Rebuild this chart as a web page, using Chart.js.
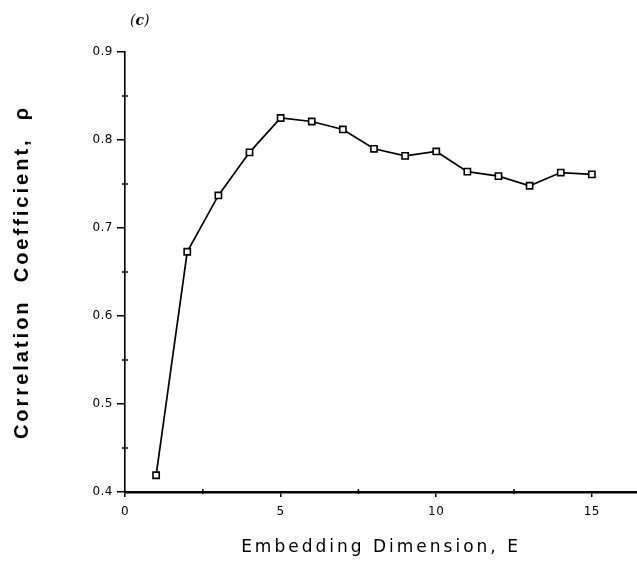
<!DOCTYPE html>
<html>
<head>
<meta charset="utf-8">
<script src="https://cdn.jsdelivr.net/npm/chart.js@4.4.1/dist/chart.umd.min.js"></script>
<style>
  html, body { margin: 0; padding: 0; background: #fff; }
  #wrap { position: relative; width: 637px; height: 585px; }
  #panel { position: absolute; left: 130px; top: 12px; font: italic 14px "DejaVu Serif", serif; color: #000; }
</style>
</head>
<body>
<div id="wrap">
  <canvas id="myChart" width="637" height="585"></canvas>
  <div id="panel">(<b>c</b>)</div>
</div>
<script>
// embedding dimension E and correlation coefficient rho
const dims = [1, 2, 3, 4, 5, 6, 7, 8, 9, 10, 11, 12, 13, 14, 15];
const rho = [0.419, 0.673, 0.737, 0.786, 0.825, 0.821, 0.812, 0.790, 0.782, 0.787, 0.764, 0.759, 0.748, 0.763, 0.761];

const xMajor = [0, 5, 10, 15];
const xMinor = [2.5, 7.5, 12.5];
const yMinor = [0.45, 0.55, 0.65, 0.75, 0.85];

const tickFont = { family: 'DejaVu Sans', size: 12 };

// wide spacing for the axis titles (drawn with the grid layer),
// tighter for tick labels (drawn after the datasets, ticks.z = 1)
const spacing = {
  id: 'spacing',
  beforeDraw(chart) {
    chart.ctx.letterSpacing = '3px';
  },
  beforeDatasetsDraw(chart) {
    chart.ctx.letterSpacing = '0.5px';
  },
};

// small minor ticks crossing the axes
const minorTicks = {
  id: 'minorTicks',
  afterDraw(chart) {
    const { ctx, scales: { x, y } } = chart;
    ctx.save();
    ctx.strokeStyle = '#000';
    ctx.lineWidth = 1.5;
    yMinor.forEach((v) => {
      const py = y.getPixelForValue(v);
      ctx.beginPath();
      ctx.moveTo(x.left - 3, py);
      ctx.lineTo(x.left + 3, py);
      ctx.stroke();
    });
    xMinor.forEach((v) => {
      const px = x.getPixelForValue(v);
      ctx.beginPath();
      ctx.moveTo(px, y.bottom - 3);
      ctx.lineTo(px, y.bottom + 2);
      ctx.stroke();
    });
    ctx.restore();
  },
};

const ctx = document.getElementById('myChart').getContext('2d');
new Chart(ctx, {
  type: 'line',
  data: {
    datasets: [
      {
        data: dims.map((d, i) => ({ x: d, y: rho[i] })),
        borderColor: '#000',
        borderWidth: 1.7,
        tension: 0,
        pointStyle: 'rect',
        pointRadius: 4.4,
        pointBorderWidth: 1.6,
        pointBorderColor: '#000',
        pointBackgroundColor: '#fff',
      },
    ],
  },
  options: {
    responsive: false,
    animation: false,
    layout: { autoPadding: false, padding: { top: 52, right: 0, bottom: 0, left: 0 } },
    plugins: { legend: { display: false }, tooltip: { enabled: false } },
    scales: {
      x: {
        type: 'linear',
        min: 0,
        max: 16.45,
        afterBuildTicks: (s) => {
          s.ticks = xMajor.map((v) => ({ value: v }));
        },
        afterFit: (s) => {
          s.height = 93;
          // axis line runs to the right edge of the page
          s.paddingRight = 0;
          s.paddingLeft = 0;
        },
        grid: { drawOnChartArea: false, tickLength: 5, color: '#000', lineWidth: 1.5 },
        border: { color: '#000', width: 2.4 },
        ticks: { color: '#000', font: tickFont, padding: 8, maxRotation: 0, z: 1 },
        title: {
          display: true,
          text: 'Embedding Dimension, E',
          color: '#000',
          font: { family: 'DejaVu Sans', size: 17 },
          padding: { top: 0, bottom: 27 },
        },
      },
      y: {
        min: 0.4,
        max: 0.9,
        afterFit: (s) => {
          s.width = 125;
        },
        ticks: {
          stepSize: 0.1,
          color: '#000',
          font: tickFont,
          padding: 4,
          z: 1,
          callback: (v) => v.toFixed(1),
        },
        grid: { drawOnChartArea: false, tickLength: 8, color: '#000', lineWidth: 1.5 },
        border: { color: '#000', width: 1.6 },
        title: {
          display: true,
          text: 'Correlation  Coefficient,  \u03c1',
          color: '#000',
          font: { family: 'Liberation Sans', size: 20, weight: 'bold' },
          padding: { top: 10, bottom: 0 },
        },
      },
    },
  },
  plugins: [spacing, minorTicks],
});
</script>
</body>
</html>
